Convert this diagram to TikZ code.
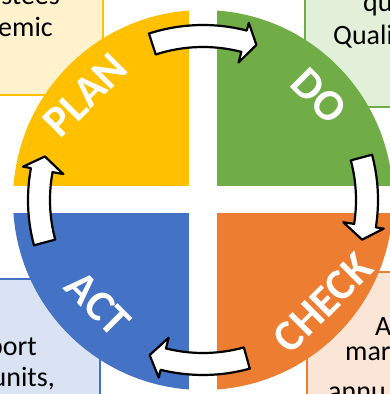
\documentclass[tikz,border=0pt]{standalone}
\usepackage{fontspec}
\setmainfont{Carlito}
\definecolor{planY}{HTML}{FFC000}
\definecolor{doG}{HTML}{70AD47}
\definecolor{checkO}{HTML}{ED7D31}
\definecolor{actB}{HTML}{4472C4}
\definecolor{planBg}{HTML}{FFF2CC}
\definecolor{doBg}{HTML}{E2F0D9}
\definecolor{checkBg}{HTML}{FBE5D6}
\definecolor{actBg}{HTML}{DAE3F3}
% curved block arrow along the cycle: tail angle, head base angle, tip angle
\newcommand\pdcaarrow[3]{%
  \draw[cyclearrow] (#1:175) arc[start angle=#1, end angle=#2, radius=175]
    -- (#2:183) -- (#3:164) -- (#2:142) -- (#2:153)
    arc[start angle=#2, end angle=#1, radius=153] -- cycle;}
\begin{document}
\begin{tikzpicture}[x=1pt,y=1pt,
  infobox/.style={line width=1.5pt},
  infotext/.style={inner sep=0pt, font=\fontsize{28}{34}\selectfont, text=black},
  phase/.style={inner sep=0pt, text=white, font=\fontsize{44}{50}\selectfont\bfseries},
  cyclearrow/.style={fill=white, draw=black, line width=2.2pt, line join=round}]
\useasboundingbox (0,0) rectangle (390,394);
\coordinate (C) at (203,194);

% background text boxes in the four corners
\filldraw[infobox, fill=planBg, draw=planY] (-10,299) rectangle (103,410);
\filldraw[infobox, fill=doBg, draw=doG] (305,287) rectangle (400,410);
\filldraw[infobox, fill=actBg, draw=actB] (-10,-20) rectangle (100,115);
\filldraw[infobox, fill=checkBg, draw=checkO] (307,-20) rectangle (400,122);

\node[infotext, anchor=base east] (tl1) at (60,389) {stees};
\node[infotext, anchor=base east] (tl2) at (53,357) {emic};
\node[infotext, anchor=base west] (tr1) at (363,382) {qu};
\node[infotext, anchor=base west] (tr2) at (333,349) {Quali};
\node[infotext, anchor=base east] (bl1) at (37,38) {port};
\node[infotext, anchor=base east] (bl2) at (55,7) {units,};
\node[infotext, anchor=base west] (br1) at (375,58) {A};
\node[infotext, anchor=base west] (br2) at (345,33) {mar};
\node[infotext, anchor=base west] (br3) at (328,-6) {annu};

% the four quadrants of the cycle, split by a white cross
\begin{scope}
  \clip (C) circle[radius=190];
  \fill[planY] (0,208) rectangle (189,400);
  \fill[doG] (217,208) rectangle (400,400);
  \fill[actB] (0,181) rectangle (189,0);
  \fill[checkO] (217,181) rectangle (400,0);
\end{scope}

\node[phase, rotate=45] (plan) at (85,299) {PLAN};
\node[phase, rotate=-45] (do) at (319,298) {DO};
\node[phase, rotate=45] (check) at (323,91) {CHECK};
\node[phase, rotate=-45] (act) at (98,90) {ACT};

% arrows turning the cycle clockwise
\begin{scope}[shift={(C)}]
  \pdcaarrow{108}{75.5}{71}
  \pdcaarrow{15}{-9}{-14}
  \pdcaarrow{-74.5}{-104}{-109}
  \pdcaarrow{195}{169.5}{164.6}
\end{scope}
\end{tikzpicture}
\end{document}
